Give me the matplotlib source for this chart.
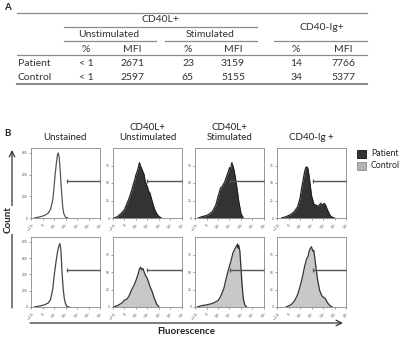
import numpy as np
import matplotlib.pyplot as plt

plt.rcParams['font.family'] = ['Lato', 'DejaVu Sans']

# table values
row_names = ["Patient", "Control"]
unstim_pct = ["< 1", "< 1"]
unstim_mfi = [2671, 2597]
stim_pct = [23, 65]
stim_mfi = [3159, 5155]
ig_pct = [14, 34]
ig_mfi = [7766, 5377]

# histogram traces (x in log decades, y in counts)
unst_top_x = [0.3, 0.6, 0.9, 1.2, 1.5, 1.7, 1.9, 2.0, 2.1, 2.2, 2.3, 2.37, 2.45, 2.55, 2.65, 2.75, 2.85, 3.0, 3.2]
unst_top_y = [0, 6, 14, 25, 45, 80, 170, 280, 400, 500, 580, 600, 560, 420, 250, 110, 40, 8, 0]
unstim_top_x = [0.1, 0.4, 0.6, 0.8, 1.0, 1.2, 1.4, 1.6, 1.8, 1.9, 2.0, 2.1, 2.2, 2.3, 2.4, 2.5, 2.6, 2.7, 2.8, 3.0, 3.1, 3.2, 3.4, 3.6, 3.8, 4.0, 4.2]
unstim_top_y = [0, 2, 5, 8, 12, 20, 28, 38, 50, 55, 62, 66, 72, 79, 74, 70, 66, 62, 52, 44, 38, 36, 24, 13, 6, 2, 0]
stim_top_x = [0.3, 0.6, 0.9, 1.2, 1.5, 1.8, 2.0, 2.2, 2.4, 2.6, 2.8, 2.9, 3.0, 3.1, 3.2, 3.3, 3.4, 3.6, 3.8, 4.0, 4.2]
stim_top_y = [0, 2, 3, 5, 9, 18, 30, 42, 46, 52, 62, 66, 72, 70, 79, 74, 68, 48, 24, 6, 0]
ig_top_x = [0.4, 0.8, 1.2, 1.5, 1.8, 2.0, 2.2, 2.4, 2.5, 2.6, 2.7, 2.8, 3.0, 3.2, 3.4, 3.6, 3.8, 4.0, 4.1, 4.2, 4.4, 4.6, 4.8, 5.0]
ig_top_y = [0, 2, 5, 9, 16, 28, 48, 66, 72, 73, 70, 58, 32, 20, 18, 17, 21, 18, 21, 19, 11, 4, 1, 0]

unst_bot_x = [0.3, 0.6, 0.9, 1.2, 1.5, 1.7, 1.9, 2.0, 2.1, 2.2, 2.3, 2.4, 2.52, 2.6, 2.7, 2.8, 2.9, 3.0, 3.1, 3.3]
unst_bot_y = [0, 8, 16, 28, 50, 90, 230, 370, 480, 580, 670, 740, 780, 700, 420, 220, 100, 40, 10, 0]
unstim_bot_x = [0.0, 0.4, 0.8, 1.0, 1.2, 1.4, 1.6, 1.8, 2.0, 2.2, 2.3, 2.4, 2.5, 2.6, 2.8, 3.0, 3.2, 3.4, 3.6, 3.8, 4.0]
unstim_bot_y = [0, 2, 6, 10, 11, 16, 24, 30, 38, 48, 54, 57, 53, 55, 46, 40, 30, 22, 12, 4, 0]
stim_bot_x = [0.2, 0.6, 1.0, 1.5, 2.0, 2.2, 2.5, 2.7, 2.9, 3.1, 3.3, 3.5, 3.6, 3.7, 3.75, 3.8, 3.9, 4.0, 4.1, 4.2, 4.35, 4.5]
stim_bot_y = [0, 2, 3, 5, 9, 14, 26, 40, 53, 64, 77, 84, 87, 90, 84, 88, 80, 55, 30, 12, 2, 0]
ig_bot_x = [0.8, 1.2, 1.5, 1.8, 2.0, 2.2, 2.4, 2.6, 2.7, 2.8, 2.9, 3.0, 3.1, 3.2, 3.3, 3.5, 3.7, 3.9, 4.1, 4.2, 4.4, 4.6, 4.8]
ig_bot_y = [0, 3, 8, 18, 29, 42, 58, 70, 72, 80, 84, 86, 80, 81, 68, 42, 24, 16, 13, 12, 6, 2, 0]

gate_starts = [3.1, 3.0, 3.05, 3.1]
gate_end = 6.0
ylims_top = [645, 100, 100, 100]
ylims_bot = [860, 100, 100, 100]

titles = ["Unstained", "CD40L+\nUnstimulated", "CD40L+\nStimulated", "CD40-Ig +"]
legend_labels = ["Patient", "Control"]
xtick_labels = ["$-10^1$", "$0$", "$10^1$", "$10^2$", "$10^3$", "$10^4$", "$10^5$"]

W, H = 400, 337
fig = plt.figure(figsize=(4.0, 3.37), dpi=100)

ov = fig.add_axes([0, 0, 1, 1])
ov.set_xlim(0, W)
ov.set_ylim(H, 0)
ov.axis('off')

txt = '#333333'
line_c = '#8c8c8c'
fs = 7.5

# ---- panel A: table
ov.text(4, 8, "A", fontsize=7, fontweight='bold', va='center', color='#222222')
ov.plot([17, 367], [12.5, 12.5], color=line_c, lw=0.9)
ov.text(160, 20, "CD40L+", fontsize=fs, ha='center', va='center', color=txt)
ov.plot([64, 257], [26.7, 26.7], color=line_c, lw=0.9)
ov.text(322, 28, "CD40-Ig+", fontsize=fs, ha='center', va='center', color=txt)
ov.text(109, 34.5, "Unstimulated", fontsize=fs, ha='center', va='center', color=txt)
ov.text(210, 34.5, "Stimulated", fontsize=fs, ha='center', va='center', color=txt)
for a, b in [(64, 156), (165, 257), (274, 367)]:
    ov.plot([a, b], [41, 41], color=line_c, lw=0.9)
col_x = [86, 132, 188, 233, 296, 343]
for cx, lab in zip(col_x, ["%", "MFI", "%", "MFI", "%", "MFI"]):
    ov.text(cx, 49, lab, fontsize=fs, ha='center', va='center', color=txt)
ov.plot([17, 367], [55, 55], color=line_c, lw=0.9)
row_y = [63, 78]
for i, name in enumerate(row_names):
    y = row_y[i]
    ov.text(18, y, name, fontsize=fs, ha='left', va='center', color=txt)
    vals = [unstim_pct[i], unstim_mfi[i], stim_pct[i], stim_mfi[i], ig_pct[i], ig_mfi[i]]
    for cx, v in zip(col_x, vals):
        ov.text(cx, y, str(v), fontsize=fs, ha='center', va='center', color=txt)
ov.plot([17, 367], [84, 84], color=line_c, lw=1.5)

# ---- panel B: histograms
ov.text(4, 133, "B", fontsize=7, fontweight='bold', va='center', color='#222222')

lefts = [31, 113, 195, 277]
pw = 69
rows = [(148, 218), (237, 307)]
traces = [
    [(unst_top_x, unst_top_y), (unstim_top_x, unstim_top_y), (stim_top_x, stim_top_y), (ig_top_x, ig_top_y)],
    [(unst_bot_x, unst_bot_y), (unstim_bot_x, unstim_bot_y), (stim_bot_x, stim_bot_y), (ig_bot_x, ig_bot_y)],
]
fills = [['white', '#333333', '#333333', '#333333'], ['white', '#c8c8c8', '#c8c8c8', '#c8c8c8']]
edges = [['#555555', '#222222', '#222222', '#222222'], ['#444444', '#333333', '#333333', '#333333']]
ylims = [ylims_top, ylims_bot]

for r, (top, bot) in enumerate(rows):
    for c in range(4):
        ax = fig.add_axes([lefts[c] / W, 1 - bot / H, pw / W, (bot - top) / H])
        hx, hy = traces[r][c]
        ax.fill_between(hx, hy, color=fills[r][c], lw=0)
        ax.plot(hx, hy, color=edges[r][c], lw=0.9)
        ym = ylims[r][c]
        ax.set_xlim(0, 6)
        ax.set_ylim(0, ym)
        gy = 0.53 * ym
        ax.plot([gate_starts[c], gate_end], [gy, gy], color='#555555', lw=1.0)
        ax.plot([gate_starts[c], gate_end], [gy, gy], ls='none', marker='|',
                ms=3, mew=0.8, color='#555555')
        ax.set_xticks(range(7))
        ax.set_xticklabels(xtick_labels, fontsize=2.5, rotation=45, color='#444444')
        step = 200 if ym > 200 else 25
        ax.set_yticks(np.arange(0, ym, step))
        ax.set_yticklabels([str(int(v)) for v in np.arange(0, ym, step)], fontsize=2.3, color='#444444')
        ax.tick_params(length=1.2, width=0.4, pad=1, colors='#555555')
        for sp in ax.spines.values():
            sp.set_color('#888888')
            sp.set_linewidth(0.6)

# titles
for c, t in enumerate(titles):
    cx = lefts[c] + pw / 2
    ov.text(cx, 142, t, fontsize=7, ha='center', va='bottom', color='#222222', linespacing=1.15)

# legend
ov.add_patch(plt.Rectangle((357, 150), 8.5, 8, facecolor='#333333', edgecolor='#111111', lw=0.6))
ov.add_patch(plt.Rectangle((357, 162), 8.5, 8, facecolor='#b4b4b4', edgecolor='#8a8a8a', lw=0.6))
ov.text(371, 154, legend_labels[0], fontsize=6.3, va='center', color='#222222')
ov.text(371, 166, legend_labels[1], fontsize=6.3, va='center', color='#222222')

# axis arrows
ov.annotate('', xy=(12, 150), xytext=(12, 308),
            arrowprops=dict(arrowstyle='->', color='#333333', lw=0.9, shrinkA=0, shrinkB=0))
ov.text(8.5, 220, "Count", fontsize=7, fontweight='bold', rotation=90, ha='center', va='center',
        color='#222222', bbox=dict(facecolor='white', edgecolor='none', pad=0.5))
ov.annotate('', xy=(343, 323), xytext=(30, 323),
            arrowprops=dict(arrowstyle='->', color='#333333', lw=0.9, shrinkA=0, shrinkB=0))
ov.text(186, 332, "Fluorescence", fontsize=7, fontweight='bold', ha='center', va='center', color='#222222')

fig.savefig('out.png', dpi=100)
